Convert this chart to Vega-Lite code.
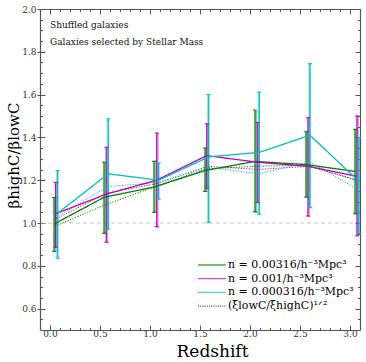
{
  "$schema": "https://vega.github.io/schema/vega-lite/v6.json",
  "width": 320,
  "height": 321,
  "padding": {"left": 40, "top": 9, "right": 6, "bottom": 32},
  "autosize": {"type": "none"},
  "background": "white",
  "config": {
    "view": {"stroke": null},
    "font": "DejaVu Serif",
    "axis": {"grid": false, "labelFont": "DejaVu Serif", "titleFont": "DejaVu Serif", "domainColor": "#555555", "tickColor": "#555555", "labelColor": "#333333", "labelFontSize": 9, "domainWidth": 1.2, "tickWidth": 1}
  },
  "datasets": {
    "pts": [
      {"series": "n = 0.00316/h⁻³Mpc³", "kind": "solid", "z": 0.04, "v": 0.995, "lo": 0.866, "hi": 1.119},
      {"series": "n = 0.00316/h⁻³Mpc³", "kind": "solid", "z": 0.54, "v": 1.12, "lo": 0.952, "hi": 1.285},
      {"series": "n = 0.00316/h⁻³Mpc³", "kind": "solid", "z": 1.04, "v": 1.168, "lo": 1.05, "hi": 1.288},
      {"series": "n = 0.00316/h⁻³Mpc³", "kind": "solid", "z": 1.55, "v": 1.245, "lo": 1.147, "hi": 1.351},
      {"series": "n = 0.00316/h⁻³Mpc³", "kind": "solid", "z": 2.05, "v": 1.288, "lo": 1.053, "hi": 1.528},
      {"series": "n = 0.00316/h⁻³Mpc³", "kind": "solid", "z": 2.56, "v": 1.273, "lo": 1.121, "hi": 1.426},
      {"series": "n = 0.00316/h⁻³Mpc³", "kind": "solid", "z": 3.05, "v": 1.241, "lo": 1.045, "hi": 1.437},
      {"series": "n = 0.001/h⁻³Mpc³", "kind": "solid", "z": 0.055, "v": 1.043, "lo": 0.886, "hi": 1.19},
      {"series": "n = 0.001/h⁻³Mpc³", "kind": "solid", "z": 0.563, "v": 1.135, "lo": 0.91, "hi": 1.354},
      {"series": "n = 0.001/h⁻³Mpc³", "kind": "solid", "z": 1.067, "v": 1.2, "lo": 0.983, "hi": 1.42},
      {"series": "n = 0.001/h⁻³Mpc³", "kind": "solid", "z": 1.567, "v": 1.315, "lo": 1.163, "hi": 1.464},
      {"series": "n = 0.001/h⁻³Mpc³", "kind": "solid", "z": 2.073, "v": 1.284, "lo": 1.096, "hi": 1.469},
      {"series": "n = 0.001/h⁻³Mpc³", "kind": "solid", "z": 2.58, "v": 1.265, "lo": 1.033, "hi": 1.492},
      {"series": "n = 0.001/h⁻³Mpc³", "kind": "solid", "z": 3.07, "v": 1.218, "lo": 0.94, "hi": 1.5},
      {"series": "n = 0.000316/h⁻³Mpc³", "kind": "solid", "z": 0.077, "v": 1.046, "lo": 0.835, "hi": 1.245},
      {"series": "n = 0.000316/h⁻³Mpc³", "kind": "solid", "z": 0.583, "v": 1.23, "lo": 0.972, "hi": 1.487},
      {"series": "n = 0.000316/h⁻³Mpc³", "kind": "solid", "z": 1.087, "v": 1.2, "lo": 1.112, "hi": 1.28},
      {"series": "n = 0.000316/h⁻³Mpc³", "kind": "solid", "z": 1.587, "v": 1.309, "lo": 1.004, "hi": 1.601},
      {"series": "n = 0.000316/h⁻³Mpc³", "kind": "solid", "z": 2.093, "v": 1.33, "lo": 1.041, "hi": 1.612},
      {"series": "n = 0.000316/h⁻³Mpc³", "kind": "solid", "z": 2.6, "v": 1.41, "lo": 1.072, "hi": 1.745},
      {"series": "n = 0.000316/h⁻³Mpc³", "kind": "solid", "z": 3.09, "v": 1.194, "lo": 0.95, "hi": 1.4},
      {"series": "n = 0.00316/h⁻³Mpc³", "kind": "ratio", "z": 0.05, "v": 0.985, "lo": 0.87, "hi": 1.12},
      {"series": "n = 0.00316/h⁻³Mpc³", "kind": "ratio", "z": 0.55, "v": 1.085, "lo": 0.95, "hi": 1.28},
      {"series": "n = 0.00316/h⁻³Mpc³", "kind": "ratio", "z": 1.05, "v": 1.17, "lo": 1.05, "hi": 1.29},
      {"series": "n = 0.00316/h⁻³Mpc³", "kind": "ratio", "z": 1.56, "v": 1.253, "lo": 1.15, "hi": 1.35},
      {"series": "n = 0.00316/h⁻³Mpc³", "kind": "ratio", "z": 2.06, "v": 1.265, "lo": 1.05, "hi": 1.52},
      {"series": "n = 0.00316/h⁻³Mpc³", "kind": "ratio", "z": 2.57, "v": 1.27, "lo": 1.12, "hi": 1.43},
      {"series": "n = 0.00316/h⁻³Mpc³", "kind": "ratio", "z": 3.06, "v": 1.2, "lo": 1.04, "hi": 1.44},
      {"series": "n = 0.001/h⁻³Mpc³", "kind": "ratio", "z": 0.062, "v": 1.02, "lo": 0.89, "hi": 1.19},
      {"series": "n = 0.001/h⁻³Mpc³", "kind": "ratio", "z": 0.57, "v": 1.14, "lo": 0.91, "hi": 1.35},
      {"series": "n = 0.001/h⁻³Mpc³", "kind": "ratio", "z": 1.075, "v": 1.185, "lo": 0.98, "hi": 1.42},
      {"series": "n = 0.001/h⁻³Mpc³", "kind": "ratio", "z": 1.575, "v": 1.265, "lo": 1.16, "hi": 1.46},
      {"series": "n = 0.001/h⁻³Mpc³", "kind": "ratio", "z": 2.08, "v": 1.25, "lo": 1.1, "hi": 1.47},
      {"series": "n = 0.001/h⁻³Mpc³", "kind": "ratio", "z": 2.587, "v": 1.265, "lo": 1.03, "hi": 1.49},
      {"series": "n = 0.001/h⁻³Mpc³", "kind": "ratio", "z": 3.077, "v": 1.2, "lo": 0.94, "hi": 1.5},
      {"series": "n = 0.000316/h⁻³Mpc³", "kind": "ratio", "z": 0.072, "v": 1.03, "lo": 0.84, "hi": 1.24},
      {"series": "n = 0.000316/h⁻³Mpc³", "kind": "ratio", "z": 0.578, "v": 1.17, "lo": 0.97, "hi": 1.48},
      {"series": "n = 0.000316/h⁻³Mpc³", "kind": "ratio", "z": 1.082, "v": 1.19, "lo": 1.11, "hi": 1.28},
      {"series": "n = 0.000316/h⁻³Mpc³", "kind": "ratio", "z": 1.582, "v": 1.26, "lo": 1.0, "hi": 1.6},
      {"series": "n = 0.000316/h⁻³Mpc³", "kind": "ratio", "z": 2.088, "v": 1.23, "lo": 1.04, "hi": 1.61},
      {"series": "n = 0.000316/h⁻³Mpc³", "kind": "ratio", "z": 2.595, "v": 1.285, "lo": 1.07, "hi": 1.74},
      {"series": "n = 0.000316/h⁻³Mpc³", "kind": "ratio", "z": 3.085, "v": 1.155, "lo": 0.95, "hi": 1.4}
    ]
  },
  "data": {"name": "pts"},
  "resolve": {"axis": {"x": "independent", "y": "independent"}},
  "layer": [
    {
      "data": {"values": [{}]},
      "mark": {"type": "rule", "strokeDash": [4, 3], "color": "#c8c8c8", "strokeWidth": 1.2},
      "encoding": {"y": {"datum": 1, "type": "quantitative", "scale": {"domain": [0.5, 2.0], "nice": false, "zero": false}, "axis": null}}
    },
    {
      "mark": {"type": "point", "opacity": 0},
      "encoding": {
        "x": {"field": "z", "type": "quantitative", "scale": {"domain": [-0.1, 3.1], "nice": false, "zero": false},
          "axis": {"orient": "bottom", "values": [0, 0.5, 1, 1.5, 2, 2.5, 3], "format": ".1f", "ticks": false, "labelPadding": -1, "title": "Redshift", "titleFontSize": 17, "titleFontWeight": "normal", "titleColor": "#000000", "titleX": 172, "titleY": 21, "titleBaseline": "middle", "titleAlign": "center"}},
        "y": {"field": "v", "type": "quantitative", "scale": {"domain": [0.5, 2.0], "nice": false, "zero": false},
          "axis": {"orient": "left", "values": [0.6, 0.8, 1.0, 1.2, 1.4, 1.6, 1.8, 2.0], "format": ".1f", "tickSize": 3, "labelPadding": 1, "title": "βhighC/βlowC", "titleFontSize": 15, "titleFontWeight": "normal", "titleColor": "#000000", "titleX": -27, "titleY": 146, "titleAngle": 270, "titleBaseline": "middle", "titleAlign": "center"}}
      }
    },
    {
      "mark": {"type": "point", "opacity": 0},
      "encoding": {
        "x": {"field": "z", "type": "quantitative", "scale": {"domain": [-0.1, 3.1], "nice": false, "zero": false},
          "axis": {"orient": "bottom", "values": [0,0.1,0.2,0.3,0.4,0.5,0.6,0.7,0.8,0.9,1,1.1,1.2,1.3,1.4,1.5,1.6,1.7,1.8,1.9,2,2.1,2.2,2.3,2.4,2.5,2.6,2.7,2.8,2.9,3], "labels": false, "domain": false, "title": null,
            "tickSize": {"condition": {"test": "abs(datum.value*2-round(datum.value*2))<0.001", "value": -5}, "value": -2.5}}},
        "y": {"field": "v", "type": "quantitative", "scale": {"domain": [0.5, 2.0], "nice": false, "zero": false},
          "axis": {"orient": "left", "values": [0.55,0.6,0.65,0.7,0.75,0.8,0.85,0.9,0.95,1,1.05,1.1,1.15,1.2,1.25,1.3,1.35,1.4,1.45,1.5,1.55,1.6,1.65,1.7,1.75,1.8,1.85,1.9,1.95,2], "labels": false, "domain": false, "title": null,
            "tickSize": {"condition": {"test": "abs(datum.value*5-round(datum.value*5))<0.001", "value": -5}, "value": -2.5}}}
      }
    },
    {
      "mark": {"type": "point", "opacity": 0},
      "encoding": {
        "x": {"field": "z", "type": "quantitative", "scale": {"domain": [-0.1, 3.1], "nice": false, "zero": false},
          "axis": {"orient": "top", "values": [0,0.1,0.2,0.3,0.4,0.5,0.6,0.7,0.8,0.9,1,1.1,1.2,1.3,1.4,1.5,1.6,1.7,1.8,1.9,2,2.1,2.2,2.3,2.4,2.5,2.6,2.7,2.8,2.9,3], "labels": false, "title": null,
            "tickSize": {"condition": {"test": "abs(datum.value*2-round(datum.value*2))<0.001", "value": -5}, "value": -2.5}}},
        "y": {"field": "v", "type": "quantitative", "scale": {"domain": [0.5, 2.0], "nice": false, "zero": false},
          "axis": {"orient": "right", "values": [0.55,0.6,0.65,0.7,0.75,0.8,0.85,0.9,0.95,1,1.05,1.1,1.15,1.2,1.25,1.3,1.35,1.4,1.45,1.5,1.55,1.6,1.65,1.7,1.75,1.8,1.85,1.9,1.95,2], "labels": false, "title": null,
            "tickSize": {"condition": {"test": "abs(datum.value*5-round(datum.value*5))<0.001", "value": -5}, "value": -2.5}}}
      }
    },
    {
      "mark": {"type": "rule"},
      "encoding": {
        "x": {"field": "z", "type": "quantitative", "axis": null},
        "y": {"field": "lo", "type": "quantitative", "axis": null},
        "y2": {"field": "hi"},
        "color": {"field": "series", "type": "nominal"},
        "opacity": {"field": "kind", "type": "nominal", "scale": {"domain": ["solid", "ratio"], "range": [0.95, 0.4]}, "legend": null},
        "strokeWidth": {"field": "kind", "type": "nominal", "scale": {"domain": ["solid", "ratio"], "range": [1.2, 2.4]}, "legend": null}
      }
    },
    {
      "mark": {"type": "tick", "orient": "horizontal", "size": 4, "thickness": 1},
      "encoding": {
        "x": {"field": "z", "type": "quantitative", "axis": null},
        "y": {"field": "lo", "type": "quantitative", "axis": null},
        "color": {"field": "series", "type": "nominal"},
        "opacity": {"field": "kind", "type": "nominal", "scale": {"domain": ["solid", "ratio"], "range": [0.95, 0.4]}, "legend": null}
      }
    },
    {
      "mark": {"type": "tick", "orient": "horizontal", "size": 4, "thickness": 1},
      "encoding": {
        "x": {"field": "z", "type": "quantitative", "axis": null},
        "y": {"field": "hi", "type": "quantitative", "axis": null},
        "color": {"field": "series", "type": "nominal"},
        "opacity": {"field": "kind", "type": "nominal", "scale": {"domain": ["solid", "ratio"], "range": [0.95, 0.4]}, "legend": null}
      }
    },
    {
      "transform": [{"filter": "datum.kind === 'ratio'"}],
      "mark": {"type": "line", "strokeDash": [1.2, 1.5], "strokeWidth": 1},
      "encoding": {
        "x": {"field": "z", "type": "quantitative", "axis": null},
        "y": {"field": "v", "type": "quantitative", "axis": null},
        "color": {"field": "series", "type": "nominal"}
      }
    },
    {
      "transform": [{"filter": "datum.kind === 'solid'"}],
      "mark": {"type": "line", "strokeWidth": 1.3},
      "encoding": {
        "x": {"field": "z", "type": "quantitative", "axis": null},
        "y": {"field": "v", "type": "quantitative", "axis": null},
        "color": {"field": "series", "type": "nominal",
          "scale": {"domain": ["n = 0.00316/h⁻³Mpc³", "n = 0.001/h⁻³Mpc³", "n = 0.000316/h⁻³Mpc³", "(ξlowC/ξhighC)¹ᐟ²"], "range": ["#008000", "#bf00bf", "#00bfbf", "#000000"]},
          "legend": {"orient": "none", "legendX": 166, "legendY": 250, "title": null, "symbolType": "M-2.8,0H2.8", "symbolSize": 100, "symbolStrokeWidth": 1.3, "labelFont": "DejaVu Serif", "labelFontSize": 11, "labelColor": "#000000", "labelOffset": 10, "rowPadding": 2.7, "padding": 0, "labelLimit": 300}},
        "strokeDash": {"field": "series", "type": "nominal",
          "scale": {"domain": ["n = 0.00316/h⁻³Mpc³", "n = 0.001/h⁻³Mpc³", "n = 0.000316/h⁻³Mpc³", "(ξlowC/ξhighC)¹ᐟ²"], "range": [[1, 0], [1, 0], [1, 0], [1, 1.2]]},
          "legend": {"orient": "none", "legendX": 166, "legendY": 250, "title": null, "symbolType": "M-2.8,0H2.8", "symbolSize": 100, "symbolStrokeWidth": 1.3, "labelFont": "DejaVu Serif", "labelFontSize": 11, "labelColor": "#000000", "labelOffset": 10, "rowPadding": 2.7, "padding": 0, "labelLimit": 300}}
      }
    },
    {
      "data": {"values": [{}]},
      "mark": {"type": "text", "align": "left", "baseline": "middle", "font": "DejaVu Serif", "fontSize": 9, "color": "#111111"},
      "encoding": {
        "x": {"datum": 0.0, "type": "quantitative", "axis": null},
        "y": {"datum": 1.925, "type": "quantitative", "axis": null},
        "text": {"value": "Shuffled galaxies"}
      }
    },
    {
      "data": {"values": [{}]},
      "mark": {"type": "text", "align": "left", "baseline": "middle", "font": "DejaVu Serif", "fontSize": 9, "color": "#111111"},
      "encoding": {
        "x": {"datum": 0.0, "type": "quantitative", "axis": null},
        "y": {"datum": 1.845, "type": "quantitative", "axis": null},
        "text": {"value": "Galaxies selected by Stellar Mass"}
      }
    }
  ]
}
